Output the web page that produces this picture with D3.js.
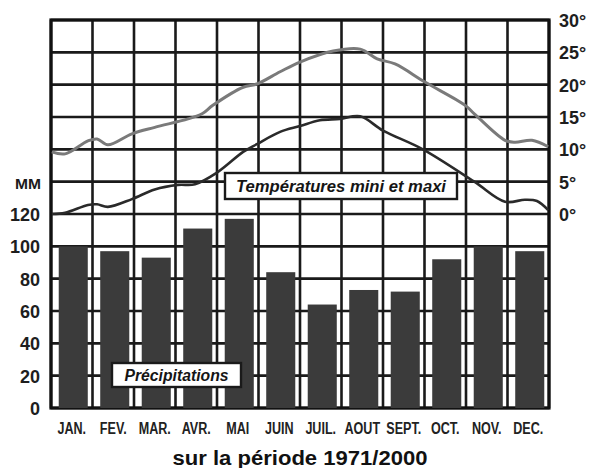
<!DOCTYPE html>
<html>
<head>
<meta charset="utf-8">
<script src="https://cdn.jsdelivr.net/npm/d3@7"></script>
<style>
  body { margin: 0; background: #fff; }
  svg { display: block; font-family: "Liberation Sans", Arial, sans-serif; }
</style>
</head>
<body>
<div id="chart"></div>
<script>
/* DATA */
const months = ["JAN.", "FEV.", "MAR.", "AVR.", "MAI", "JUIN", "JUIL.", "AOUT", "SEPT.", "OCT.", "NOV.", "DEC."];
const rainfall = [100, 97, 93, 111, 117, 84, 64, 73, 72, 92, 100, 97];

// position in months (0 = start of Jan, 12 = end of Dec) and temperature
const maxPos = [0.02, 0.34, 0.89, 1.11, 1.37, 1.95, 2.5, 3.3, 3.64, 3.9, 4.63, 4.96, 5.52, 6.0, 6.8, 7.45, 7.86, 8.29, 9.01, 9.98, 10.2, 10.94, 11.18, 11.59, 11.98];
const tMax   = [9.6, 9.3, 11.3, 11.6, 10.7, 12.4, 13.4, 14.7, 15.5, 16.8, 19.6, 20.1, 22, 23.5, 25.2, 25.5, 24, 23.2, 20.4, 16.8, 15.5, 11.4, 11.1, 11.4, 10.4];
const minPos = [0.02, 0.34, 0.89, 1.11, 1.37, 1.95, 2.5, 3.06, 3.47, 4.0, 4.63, 4.96, 5.52, 6.0, 6.48, 6.96, 7.45, 8.0, 8.96, 10.2, 10.94, 11.42, 11.71, 11.98];
const tMin   = [0, 0.2, 1.4, 1.5, 1.1, 2.3, 3.8, 4.5, 4.6, 6.4, 9.6, 10.8, 12.7, 13.6, 14.5, 14.7, 15.1, 12.9, 10, 5, 1.9, 2.2, 2.0, 0.6];

const mmTicks = [0, 20, 40, 60, 80, 100, 120];
const degTicks = [0, 5, 10, 15, 20, 25, 30];

/* LAYOUT */
const width = 593, height = 468;
const plot = { left: 51, right: 549, top: 20, bottom: 408 };

const svg = d3.select("#chart").append("svg")
  .attr("width", width)
  .attr("height", height);

// scales
const xMonth = d3.scaleLinear().domain([0, 12]).range([plot.left, plot.right]);
const xBand = d3.scaleBand().domain(months).range([plot.left, plot.right])
  .paddingInner(0.3).paddingOuter(0.15);
const yMM = d3.scaleLinear().domain([0, 240]).range([plot.bottom, plot.top]);
const yDeg = d3.scaleLinear().domain([-30, 30]).range([plot.bottom, plot.top]);

// grid
const grid = svg.append("g").attr("stroke", "#1a1a1a").attr("stroke-width", 2.6);
grid.selectAll("line.v")
  .data(d3.range(0, 13))
  .join("line")
  .attr("class", "v")
  .attr("x1", d => xMonth(d)).attr("x2", d => xMonth(d))
  .attr("y1", plot.top).attr("y2", plot.bottom);
grid.selectAll("line.h")
  .data(d3.range(-30, 31, 5))
  .join("line")
  .attr("class", "h")
  .attr("x1", plot.left).attr("x2", plot.right)
  .attr("y1", d => yDeg(d)).attr("y2", d => yDeg(d));

// frame
svg.append("rect")
  .attr("x", plot.left).attr("y", plot.top)
  .attr("width", plot.right - plot.left).attr("height", plot.bottom - plot.top)
  .attr("fill", "none").attr("stroke", "#111").attr("stroke-width", 3.2);

// bars
svg.selectAll("rect.bar")
  .data(rainfall)
  .join("rect")
  .attr("class", "bar")
  .attr("x", (d, i) => xBand(months[i]) + 1.5)
  .attr("width", xBand.bandwidth())
  .attr("y", d => yMM(d))
  .attr("height", d => yMM(0) - yMM(d))
  .attr("fill", "#3b3b3b");

// temperature lines
const maxLine = d3.line()
  .x((d, i) => xMonth(maxPos[i]))
  .y(d => yDeg(d))
  .curve(d3.curveCatmullRom);
const minLine = d3.line()
  .x((d, i) => xMonth(minPos[i]))
  .y(d => yDeg(d))
  .curve(d3.curveCatmullRom);

svg.append("path")
  .attr("d", maxLine(tMax))
  .attr("fill", "none").attr("stroke", "#7a7a7a").attr("stroke-width", 3);
svg.append("path")
  .attr("d", minLine(tMin))
  .attr("fill", "none").attr("stroke", "#2a2a2a").attr("stroke-width", 2.6);

// label boxes
function labelBox(x, y, w, h, text, tw) {
  svg.append("rect")
    .attr("x", x).attr("y", y).attr("width", w).attr("height", h)
    .attr("fill", "#fff").attr("stroke", "#1a1a1a").attr("stroke-width", 2.4);
  svg.append("text")
    .attr("x", x + w / 2).attr("y", y + h / 2 + 5.5)
    .attr("text-anchor", "middle")
    .attr("font-style", "italic")
    .attr("font-weight", "bold")
    .attr("font-size", 16)
    .attr("fill", "#151515")
    .attr("textLength", tw)
    .attr("lengthAdjust", "spacingAndGlyphs")
    .text(text);
}
labelBox(225, 173, 232, 26, "Températures mini et maxi", 210);
labelBox(112, 363, 129, 24, "Précipitations", 104);

// left axis (mm)
const yAxisL = d3.axisLeft(yMM).tickValues(mmTicks).tickSize(0).tickPadding(0);
const gL = svg.append("g")
  .attr("transform", `translate(${40},0)`)
  .call(yAxisL);
gL.select(".domain").remove();
gL.selectAll("text")
  .attr("font-size", 18)
  .attr("font-weight", "bold")
  .attr("font-family", "Liberation Sans, Arial, sans-serif")
  .attr("fill", "#1e1e1e")
  .attr("dy", "0.36em");
svg.append("text")
  .attr("x", 41).attr("y", yMM(140) + 7)
  .attr("text-anchor", "end")
  .attr("font-size", 15).attr("font-weight", "bold")
  .attr("fill", "#1a1a1a")
  .attr("textLength", 26).attr("lengthAdjust", "spacingAndGlyphs")
  .text("MM");

// right axis (degrees)
const yAxisR = d3.axisRight(yDeg).tickValues(degTicks).tickSize(0).tickPadding(0)
  .tickFormat(d => d + "°");
const gR = svg.append("g")
  .attr("transform", `translate(${559},0)`)
  .call(yAxisR);
gR.select(".domain").remove();
gR.selectAll("text")
  .attr("font-size", 18)
  .attr("font-weight", "bold")
  .attr("font-family", "Liberation Sans, Arial, sans-serif")
  .attr("fill", "#1e1e1e")
  .attr("dy", "0.36em");

// month labels
const xAxis = d3.axisBottom(xBand).tickSize(0).tickPadding(0);
const gX = svg.append("g")
  .attr("transform", `translate(0,${434})`)
  .call(xAxis);
gX.select(".domain").remove();
gX.selectAll("text")
  .attr("y", 0).attr("dy", 0)
  .attr("font-size", 17)
  .attr("font-weight", "bold")
  .attr("font-family", "Liberation Sans, Arial, sans-serif")
  .attr("fill", "#222")
  .attr("transform", "scale(0.74,1)");
gX.selectAll(".tick").attr("transform", d => `translate(${xBand(d) + xBand.bandwidth() / 2},0)`);

// title
svg.append("text")
  .attr("x", 300).attr("y", 465)
  .attr("text-anchor", "middle")
  .attr("font-size", 20).attr("font-weight", "bold")
  .attr("fill", "#111")
  .attr("textLength", 255).attr("lengthAdjust", "spacingAndGlyphs")
  .text("sur la période 1971/2000");
</script>
</body>
</html>
